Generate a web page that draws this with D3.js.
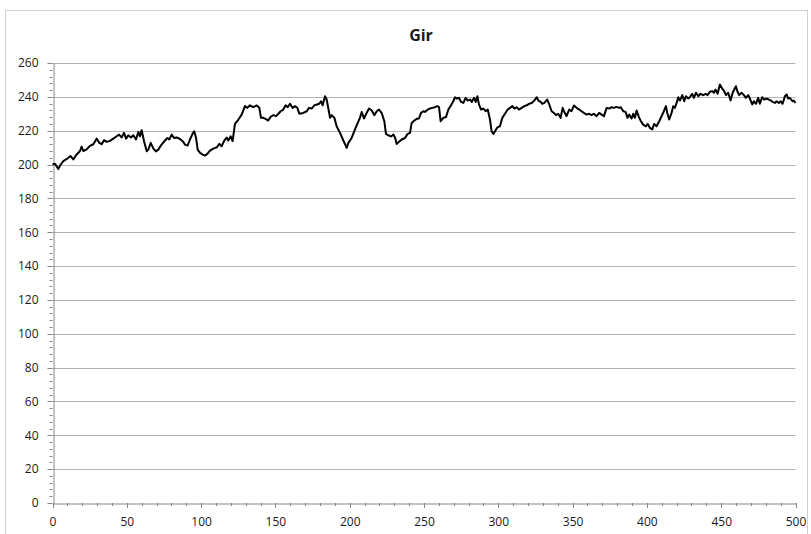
<!DOCTYPE html>
<html lang="en">
<head>
    <meta charset="UTF-8">
    <title>Gir</title>
    <script src="https://d3js.org/d3.v7.min.js"></script>
    <style>
        body {
            margin: 0;
            padding: 0;
            background-color: #ffffff;
            overflow: hidden;
        }

        svg {
            display: block;
        }

        text {
            font-family: "Open Sans", "Liberation Sans", sans-serif;
            fill: #1a1a1a;
        }
    </style>
</head>
<body>
    <script>
        // Values
        const title = "Gir";

        const xValues = [
            0, 1.7, 3.9, 5.5, 7.3, 9.1, 10.7, 12.2, 14.0, 15.8, 18.5, 19.6, 20.7, 23.0, 25.2, 27.5, 29.7, 31.5, 33.1, 34.7,
            36.4, 38.7, 40.9, 43.2, 44.8, 46.5, 48.1, 49.5, 51.0, 52.8, 54.4, 56.2, 57.8, 58.9, 60.0, 61.6, 63.4, 64.5, 66.1, 67.9,
            69.6, 71.2, 73.4, 75.7, 77.3, 78.6, 80.2, 81.8, 83.6, 85.8, 87.6, 89.2, 90.9, 92.5, 94.3, 95.4, 96.6, 97.7, 99.3, 101.1,
            102.6, 104.2, 106.0, 108.2, 110.5, 112.3, 113.8, 115.4, 117.2, 118.3, 119.9, 121.2, 122.8, 125.1, 127.3, 129.5, 131.1, 132.9, 135.1, 137.4,
            139.2, 140.3, 141.9, 143.7, 145.2, 146.8, 148.6, 150.4, 152.0, 153.5, 155.3, 156.9, 158.3, 159.8, 161.6, 163.2, 164.8, 166.1,
            168.8, 171.1, 172.6, 174.4, 176.2, 178.0, 179.4, 180.7, 181.8, 183.4, 184.5, 186.8, 187.9, 189.7, 191.2, 193.5, 195.7, 198.0, 199.1, 201.3,
            203.1, 205.4, 206.9, 208.1, 209.6, 211.4, 213.0, 214.8, 216.6, 218.2, 219.7, 221.5, 223.3, 224.4, 226.0, 227.8, 229.4, 230.5, 231.6, 233.2,
            235.0, 237.2, 239.0, 240.6, 241.7, 243.5, 245.1, 246.6, 248.0, 249.6, 250.7, 252.5, 254.0, 255.6, 257.4, 259.0, 260.1, 261.2, 263.0, 264.8,
            266.4, 268.2, 269.7, 270.9, 272.0, 273.6, 274.9, 276.5, 278.0, 279.4, 281.0, 282.1, 283.7, 284.8, 285.9, 287.0, 288.4, 290.0, 291.5, 292.9,
            294.4, 295.5, 296.7, 297.8, 299.4, 301.1, 302.7, 304.5, 306.3, 307.9, 309.5, 310.8, 312.4, 313.9, 315.7, 317.5, 319.1, 320.7, 322.5, 324.3,
            325.8, 327.0, 328.5, 329.6, 331.0,
            332.9, 334.3, 335.9, 337.4, 338.8, 340.3, 341.9, 343.3, 344.2, 345.9, 347.7, 349.3, 350.9, 352.7, 354.5, 356.0, 357.6, 359.4, 361.2, 362.8,
            364.3, 366.1, 367.9, 369.5, 371.1, 372.9, 374.7, 376.2, 377.8, 379.6, 381.2, 382.3, 384.1, 385.6, 387.0, 388.1, 389.7, 390.8, 391.9, 393.1,
            394.6, 396.0, 397.5, 399.3, 400.5, 402.0, 403.6, 404.9, 406.5, 408.3, 409.9, 411.4, 412.8, 413.7, 415.0, 416.6, 417.7, 418.8, 420.0, 421.1,
            422.2, 423.8, 425.1, 426.3, 427.8, 428.9, 430.5, 431.6, 433.0, 434.6, 436.1, 437.9, 439.5, 440.8, 442.4, 444.0, 445.1, 446.2, 447.6, 449.1,
            450.7, 451.8, 453.2, 454.7, 456.3, 457.7, 458.8, 459.9, 461.0, 462.1, 463.7, 465.3, 466.6, 468.2, 469.3, 470.9, 472.0, 473.4, 474.9, 476.0,
            477.6, 479.0, 480.5, 482.1, 483.5, 484.6, 486.1, 487.3, 488.8, 490.0, 491.3, 492.9, 494.0, 495.1, 496.2, 498.0, 498.9, 500
        ];

        const yValues = [
            200, 200.5, 197.4, 200, 202, 203, 204, 205, 203, 205.5, 208, 210.6, 208, 209, 211, 212, 215.3, 212.8, 212, 214.4,
            213.4, 214, 215.3, 216.7, 217.7, 216, 218.7, 215.3, 217.3, 216, 217.3, 214.8, 219.3, 216.7, 220.3, 213.8, 207.8, 208.8, 212.8, 209.4,
            207.8, 208.8, 211.8, 214.2, 215.7, 214.8, 217.7, 215.7, 216, 215.1, 213.8, 211.8, 211.2, 214.8, 218.3, 219.7, 215.7, 208.8, 206.9, 205.9,
            205.3, 206.3, 208.2, 209.4, 210.2, 212.2, 210.8, 213.8, 216, 214.2, 216.7, 213.8, 224, 226.6, 229.5, 234.5, 233.5, 235, 233.9, 234.9,
            233.5, 227.6, 227.6, 226.8, 226, 228.2, 229.2, 228.6, 230, 231.5, 232.5, 235, 233.9, 235.9, 233.5, 234.5, 233.5, 230,
            230.5, 231.5, 233.5, 233.1, 235, 235.5, 235.9, 237.4, 235, 240.4, 238.4, 227.6, 229.2, 227.6, 222.6, 218.7, 214.2, 209.8, 212.8, 215.7,
            219.7, 224.6, 227.6, 231.1, 227.2, 230.5, 233.1, 231.9, 229.2, 231.5, 232.5, 230.5, 225.6, 218.1, 217.3, 216.6, 217.7, 216, 212.2, 213.4,
            214.8, 215.7, 218.1, 218.7, 224.6, 226, 227, 227.2, 230.5, 231.5, 231.1, 232.5, 233.1, 233.5, 233.9, 234.5, 233.9, 225.6, 227.6, 228,
            232.5, 235, 237.4, 239.8, 239, 239.4, 237, 236.4, 239.4, 237.8, 238.4, 237, 239.4, 237, 240.4, 235.5, 232.5, 233.1, 231.5, 232.5,
            226.6, 219.7, 218.1, 219.7, 222, 222.6, 227.6, 230, 232.5, 233.5, 234.5, 233.1, 233.9, 232.5, 233.5, 234.5, 235, 235.9, 236.4, 237.8,
            239.8, 237.8, 237, 235.9, 236.4,
            238.4, 235.5, 231.5, 230.5, 229.2, 230, 227.6, 233.5, 231.5, 228.6, 232.5, 231.5, 234.9, 233.5, 232.5, 231.5, 230.5, 229.5, 230, 229.2,
            230, 228.6, 230.5, 229.5, 228.6, 233.5, 233.1, 233.9, 233.5, 234.1, 233.5, 233.9, 231.5, 231.1, 227.6, 229.5, 227.2, 230, 227.6, 231.9,
            228, 225.6, 223.6, 222.6, 224, 221.7, 220.7, 224, 222.6, 225.6, 228.6, 231.5, 234.5, 230.5, 226.6, 230.5, 234.5, 233.5, 236.4, 239.8,
            237.8, 241, 237.4, 240.4, 239, 239.8, 241.8, 239.4, 242.4, 240.4, 241.8, 241, 241.8, 241, 243, 243.4, 242.4, 244.3, 241.8, 247.3,
            244.9, 243.7, 241, 242.4, 237.8, 242.4, 244.3, 246.3, 243, 241, 242.4, 241, 239.4, 241, 239, 235.5, 237.4, 235.9, 239.4, 235.9,
            239.8, 238.4, 239, 238.4, 237.8, 237, 236.4, 237.4, 236.4, 237.4, 235.9, 240.4, 241.4, 239, 239.4, 237.4, 237.8, 236.4, 236.4
        ];

        const yTicks = [0, 20, 40, 60, 80, 100, 120, 140, 160, 180, 200, 220, 240, 260];
        const xTicks = [0, 50, 100, 150, 200, 250, 300, 350, 400, 450, 500];

        const width = 811;
        const height = 534;
        const margin = {left: 52.5, right: 15.5, top: 63, bottom: 31};

        const svg = d3.select("body").append("svg")
            .attr("width", width)
            .attr("height", height);

        // Chart area border
        svg.append("rect")
            .attr("x", 5.5)
            .attr("y", 10.5)
            .attr("width", 802)
            .attr("height", 540)
            .attr("fill", "none")
            .attr("stroke", "#d0d0d0");

        const x = d3.scaleLinear()
            .domain([0, 500])
            .range([margin.left, width - margin.right]);

        const y = d3.scaleLinear()
            .domain([0, 260])
            .range([height - margin.bottom, margin.top]);

        // Gridlines
        svg.append("g")
            .selectAll("line")
            .data(yTicks.filter(d => d > 0))
            .enter().append("line")
            .attr("x1", x(0))
            .attr("x2", x(500))
            .attr("y1", d => Math.round(y(d)) + 0.5)
            .attr("y2", d => Math.round(y(d)) + 0.5)
            .attr("stroke", "#b3b3b3")
            .attr("stroke-width", 1);

        // Minor ticks (every 10 on x, every 4 on y)
        const xMinor = d3.range(0, 501, 10);
        const yMinor = d3.range(0, 261, 4);

        svg.append("g")
            .selectAll("line")
            .data(xMinor)
            .enter().append("line")
            .attr("x1", d => Math.round(x(d)) + 0.5)
            .attr("x2", d => Math.round(x(d)) + 0.5)
            .attr("y1", y(0))
            .attr("y2", d => y(0) + (d % 50 === 0 ? 5 : 3))
            .attr("stroke", "#868686");

        svg.append("g")
            .selectAll("line")
            .data(yMinor)
            .enter().append("line")
            .attr("x1", x(0))
            .attr("x2", d => x(0) - (d % 20 === 0 ? 5 : 3))
            .attr("y1", d => Math.round(y(d)) + 0.5)
            .attr("y2", d => Math.round(y(d)) + 0.5)
            .attr("stroke", "#868686");

        // Axes
        const xAxis = d3.axisBottom(x).tickValues(xTicks).tickSize(0).tickPadding(14);
        const gx = svg.append("g")
            .attr("transform", `translate(0,${Math.round(y(0)) + 0.5})`)
            .call(xAxis);
        gx.select(".domain").attr("stroke", "#868686");
        gx.selectAll("text")
            .style("font-size", "12px")
            .attr("fill", "#1a1a1a");

        const yAxis = d3.axisLeft(y).tickValues(yTicks).tickSize(0).tickPadding(15);
        const gy = svg.append("g")
            .attr("transform", `translate(${Math.round(x(0)) + 0.5},0)`)
            .call(yAxis);
        gy.select(".domain").attr("stroke", "#868686");
        gy.selectAll("text")
            .style("font-size", "12px")
            .attr("fill", "#1a1a1a");

        // The series line
        const points = xValues.map((d, i) => [d, yValues[i]]);
        const line = d3.line()
            .x(d => x(d[0]))
            .y(d => y(d[1]));

        svg.append("path")
            .datum(points)
            .attr("d", line)
            .attr("fill", "none")
            .attr("stroke", "#000000")
            .attr("stroke-width", 2)
            .attr("stroke-linejoin", "round");

        // Title
        svg.append("text")
            .attr("x", 421)
            .attr("y", 41)
            .attr("text-anchor", "middle")
            .style("font-size", "16px")
            .style("font-weight", "bold")
            .attr("fill", "#000000")
            .text(title);
    </script>
</body>
</html>
